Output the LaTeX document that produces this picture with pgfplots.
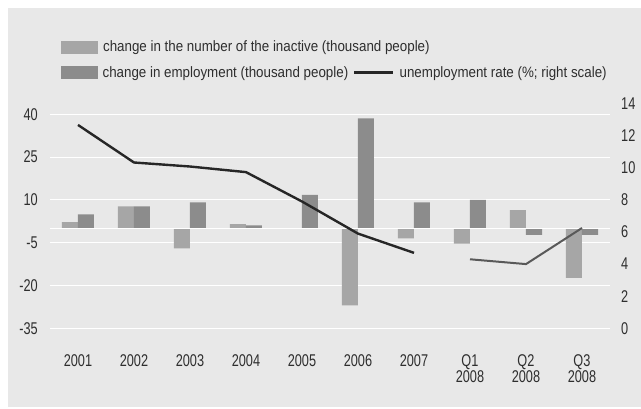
\documentclass[border=0pt]{standalone}
\usepackage{pgfplots}
\pgfplotsset{compat=1.18}
\usepackage{fontspec}
\setmainfont{Liberation Sans}
\newfontfamily\tickfontfam{Liberation Sans}[FakeStretch=0.75]
\newfontfamily\legfontfam{Liberation Sans}[FakeStretch=0.89]
\newcommand{\tickfont}{\tickfontfam\fontsize{17}{16}\selectfont}
\newcommand{\legfont}{\legfontfam\fontsize{15}{17}\selectfont}
\definecolor{bg}{HTML}{E8E8E8}
\definecolor{barA}{HTML}{A6A6A6}
\definecolor{barB}{HTML}{8C8C8C}
\definecolor{lineA}{HTML}{262626}
\definecolor{lineB}{HTML}{595959}
\definecolor{txt}{HTML}{2E2E2E}
\begin{document}
\begin{tikzpicture}
\useasboundingbox (-50pt,-80.7pt) rectangle (591pt,328.3pt);
\fill[white] (-50pt,-80.7pt) rectangle (591pt,328.3pt);
\fill[bg] (-42pt,-78.7pt) rectangle (591pt,320.3pt);
\begin{axis}[
  scale only axis, width=560pt, height=224.7pt,
  xmin=-0.5, xmax=9.5, ymin=-35, ymax=43.75,
  axis line style={draw=none}, tick style={draw=none},
  xtick={0,...,9},
  xticklabels={2001,2002,2003,2004,2005,2006,2007,{Q1\\2008},{Q2\\2008},{Q3\\2008}},
  xticklabel style={font=\tickfont, text=txt, align=center, inner sep=0pt, anchor=north, yshift=-25.7pt},
  ytick={-35,-20,-5,10,25,40},
  yticklabels={-35,-20,-5,10,25,40},
  yticklabel style={font=\tickfont, text=txt, inner sep=0pt, anchor=east, xshift=-12pt},
  ymajorgrids, major grid style={white, line width=1pt},
  legend columns=2,
  legend cell align=left,
  legend style={draw=none, fill=none, inner sep=0pt, at={(0,1)}, anchor=north west,
    xshift=11pt, yshift=63pt, font=\legfont, text=txt,
    nodes={inner sep=0pt}, column sep=5pt, row sep=13pt},
]
\addplot[ybar, bar width=16pt, bar shift=-8pt, fill=barA, draw=none, forget plot] coordinates {
(0,2.2) (1,7.7) (2,-7.0) (3,1.5) (4,0) (5,-27.0) (6,-3.5) (7,-5.3) (8,6.4) (9,-17.3)};
\addplot[ybar, bar width=16pt, bar shift=8pt, fill=barB, draw=none, forget plot] coordinates {
(0,4.9) (1,7.7) (2,9.1) (3,1.1) (4,11.8) (5,38.6) (6,9.1) (7,10.0) (8,-2.3) (9,-2.3)};
\draw[white, line width=1.5pt] (axis cs:-0.5,0) -- (axis cs:9.5,0);
\addlegendimage{legend image code/.code={\fill[barA] (0pt,-6pt) rectangle (36pt,6pt);}}
\addlegendentry{\makebox[0pt][l]{change in the number of the inactive (thousand people)}}
\addlegendimage{empty legend}
\addlegendentry{}
\addlegendimage{legend image code/.code={\fill[barB] (0pt,-6pt) rectangle (36pt,6pt);}}
\addlegendentry{change in employment (thousand people)}
\addlegendimage{legend image code/.code={\draw[lineA, line width=2.4pt] (0pt,0pt) -- (39pt,0pt);}}
\addlegendentry{unemployment rate (\%; right scale)}
\end{axis}
\begin{axis}[
  scale only axis, width=560pt, height=224.7pt,
  xmin=-0.5, xmax=9.5, ymin=0, ymax=14,
  axis x line=none, axis y line*=right,
  axis line style={draw=none}, tick style={draw=none},
  ytick={0,2,...,14},
  yticklabels={0,2,4,6,8,10,12,14},
  yticklabel style={font=\tickfont, text=txt, inner sep=0pt, anchor=west, xshift=11pt},
]
\addplot[lineA, line width=2.4pt, line join=round] coordinates {
(0,12.67) (1,10.33) (2,10.08) (3,9.73) (4,7.9) (5,5.9) (6,4.7)};
\addplot[lineB, line width=2pt, line join=round] coordinates {
(7,4.3) (8,4.0) (9,6.25)};
\end{axis}
\end{tikzpicture}
\end{document}
